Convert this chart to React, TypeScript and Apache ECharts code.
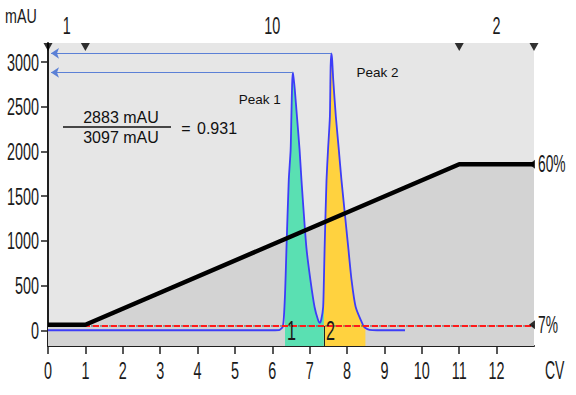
import { useEffect, useRef } from "react";
import * as echarts from "echarts";

// ---- data ----
const cvTicks = [0, 1, 2, 3, 4, 5, 6, 7, 8, 9, 10, 11, 12];
const mauTicks = [0, 500, 1000, 1500, 2000, 2500, 3000];

const traceCV = [0, 6.0, 6.2, 6.28, 6.31, 6.34, 6.36, 6.38, 6.44, 6.49, 6.51, 6.53, 6.55, 6.57, 6.6, 6.66, 6.73, 6.78, 6.91, 7.02, 7.13, 7.22, 7.27, 7.31, 7.36, 7.38, 7.4, 7.45, 7.49, 7.54, 7.56, 7.58, 7.6, 7.63, 7.7, 7.78, 7.85, 8.03, 8.12, 8.23, 8.43, 8.49, 8.6, 8.8, 9.55];
const traceMAU = [0, 0, 5, 40, 150, 400, 650, 932, 1680, 2015, 2388, 2750, 2883, 2820, 2700, 2388, 2015, 1680, 932, 560, 260, 120, 82, 120, 260, 560, 932, 1680, 2015, 2388, 2950, 3097, 3030, 2800, 2388, 2015, 1680, 932, 560, 260, 56, 25, 5, 0, 0];

const gradientCV = [0, 1, 11, 13];
const gradientPct = [7, 7, 60, 60];
const pctLabels = [7, 60];

const fractionEdges = [0, 1, 11, 13];
const fractionNames = ["1", "10", "2"];
const fractionCenters = [0.5, 6, 12];

const collectedNames = ["1", "2"];
const collectedStart = [6.34, 7.38];
const collectedEnd = [7.38, 8.49];
const collectedColors = ["#5ae0b2", "#ffd23f"];

const peakNames = ["Peak 1", "Peak 2"];
const peakCV = [6.55, 7.58];
const peakHeight = [2883, 3097];

const thresholdMAU = 48;

const Y_MIN = -176;
const Y_MAX = 3213;
const X_MAX = 13;

const SANS = "'Liberation Sans', Arial, sans-serif";
const INK = "#1b1b1b";
const SQUEEZE = 0.6;

function narrowText(text: string, x: number, y: number, align: string, size = 24, sx = SQUEEZE) {
  return {
    type: "text",
    x,
    y,
    scaleX: sx,
    silent: true,
    z: 100,
    style: { text, fontSize: size, fontFamily: SANS, fill: INK, align, verticalAlign: "middle" },
  };
}

export default function App() {
  const ref = useRef<HTMLDivElement>(null);
  useEffect(() => {
    document.body.style.margin = "0";
    if (!ref.current) return;
    const chart = echarts.init(ref.current, undefined, { renderer: "svg" });
    const trace = traceCV.map((x, i) => [x, traceMAU[i]]);
    const ratio = (peakHeight[0] / peakHeight[1]).toFixed(3);
    const thresholdLine = [
      [0, thresholdMAU],
      [X_MAX, thresholdMAU],
    ];

    const fillSeries = collectedNames.map((n, i) => ({
      type: "line",
      xAxisIndex: 0,
      yAxisIndex: 0,
      data: trace.filter((p) => p[0] >= collectedStart[i] && p[0] <= collectedEnd[i]),
      smooth: 0.2,
      symbol: "none",
      lineStyle: { width: 0 },
      areaStyle: { color: collectedColors[i], opacity: 1, origin: "start" },
      markLine:
        i === 1
          ? {
              silent: true,
              symbol: "none",
              label: { show: false },
              lineStyle: { color: "#222", width: 1, type: "solid" },
              data: [[{ coord: [collectedStart[i], Y_MIN] }, { coord: [collectedStart[i], thresholdMAU] }]],
            }
          : undefined,
    }));

    chart.setOption({
      animation: false,
      grid: {
        left: 48,
        right: 42,
        top: 43,
        bottom: 49,
        show: true,
        backgroundColor: "#e6e6e6",
        borderWidth: 0,
        containLabel: false,
        outerBoundsMode: "none",
      },
      xAxis: [
        {
          type: "value",
          min: 0,
          max: X_MAX,
          position: "bottom",
          axisLine: { onZero: false, lineStyle: { color: "#1f1f1f", width: 2 } },
          axisTick: { customValues: cvTicks, length: 8, lineStyle: { color: "#1f1f1f", width: 1.5 } },
          axisLabel: { show: false },
          splitLine: { show: false },
        },
        {
          type: "value",
          min: 0,
          max: X_MAX,
          position: "top",
          axisLine: { show: false },
          axisTick: { show: false },
          axisLabel: { show: false },
          splitLine: { show: false },
        },
      ],
      yAxis: [
        {
          type: "value",
          min: Y_MIN,
          max: Y_MAX,
          position: "left",
          axisLine: { show: true, lineStyle: { color: "#1f1f1f", width: 2 } },
          axisTick: { show: true, customValues: mauTicks, length: 7, lineStyle: { color: "#1f1f1f", width: 1.5 } },
          axisLabel: { show: false },
          splitLine: { show: false },
        },
        {
          type: "value",
          min: 0,
          max: 100,
          position: "right",
          axisLine: { show: false },
          axisTick: { show: false },
          axisLabel: { show: false },
          splitLine: { show: false },
        },
      ],
      series: [
        {
          type: "line",
          xAxisIndex: 0,
          yAxisIndex: 1,
          data: gradientCV.map((x, i) => [x, gradientPct[i]]),
          symbol: "none",
          lineStyle: { width: 0 },
          areaStyle: { color: "#d3d3d3", opacity: 1, origin: "start" },
        },
        ...fillSeries,
        {
          type: "line",
          xAxisIndex: 0,
          yAxisIndex: 0,
          data: trace,
          smooth: 0.2,
          symbol: "none",
          lineStyle: { color: "#3d3df8", width: 1.8 },
          markLine: {
            silent: true,
            symbol: ["arrow", "none"],
            symbolSize: 8,
            label: { show: false },
            lineStyle: { color: "#5b80d6", width: 1, type: "solid" },
            data: peakCV.map((cv, i) => [{ coord: [0.08, peakHeight[i]] }, { coord: [cv, peakHeight[i]] }]),
          },
        },
        {
          type: "line",
          xAxisIndex: 0,
          yAxisIndex: 0,
          data: thresholdLine,
          symbol: "none",
          lineStyle: { color: "#555", width: 1, type: [2, 7], dashOffset: -7 },
        },
        {
          type: "line",
          xAxisIndex: 0,
          yAxisIndex: 0,
          data: thresholdLine,
          symbol: "none",
          lineStyle: { color: "#ff1a1a", width: 2, type: [6, 3] },
        },
        {
          type: "line",
          xAxisIndex: 0,
          yAxisIndex: 1,
          data: gradientCV.map((x, i) => [x, gradientPct[i]]),
          symbol: "none",
          lineStyle: { color: "#000", width: 4.5 },
        },
        {
          type: "scatter",
          xAxisIndex: 0,
          yAxisIndex: 1,
          data: fractionEdges.map((x) => [x, 100]),
          symbol: "triangle",
          symbolRotate: 180,
          symbolSize: [9, 8],
          symbolOffset: [0, 4],
          itemStyle: { color: "#000" },
          clip: false,
          z: 10,
        },
        {
          type: "scatter",
          xAxisIndex: 0,
          yAxisIndex: 1,
          data: pctLabels.map((p) => [X_MAX, p]),
          symbol: "triangle",
          symbolRotate: 90,
          symbolSize: [9, 6],
          symbolOffset: [-2, 0],
          itemStyle: { color: "#000" },
          clip: false,
          z: 10,
        },
      ],
    });

    // tick labels and annotations, placed through the chart's own axes
    const px = (x: number) => chart.convertToPixel({ xAxisIndex: 0 }, x) as number;
    const pyL = (y: number) => chart.convertToPixel({ yAxisIndex: 0 }, y) as number;
    const pyR = (y: number) => chart.convertToPixel({ yAxisIndex: 1 }, y) as number;
    const left = px(0);
    const right = px(X_MAX);
    const bottom = pyL(Y_MIN);
    const top = pyL(Y_MAX);

    const graphic: any[] = [];
    cvTicks.forEach((v) => graphic.push(narrowText(String(v), px(v), bottom + 25, "center")));
    mauTicks.forEach((v) => graphic.push(narrowText(String(v), left - 9, pyL(v), "right")));
    fractionCenters.forEach((c, i) => graphic.push(narrowText(fractionNames[i], px(c), top - 17, "center")));
    pctLabels.forEach((p) => graphic.push(narrowText(`${p}%`, right + 4, pyR(p), "left", 23)));
    collectedNames.forEach((n, i) => graphic.push(narrowText(n, px(collectedStart[i]) + 2, bottom - 15, "left", 27)));
    graphic.push(narrowText("mAU", 5, 15.5, "left", 21, 0.68));
    graphic.push(narrowText("CV", right + 11, bottom + 24, "left", 25, 0.56));

    const txt = (text: string, x: number, y: number, align: string, size: number) => ({
      type: "text",
      x,
      y,
      silent: true,
      z: 100,
      style: { text, fontSize: size, fontFamily: SANS, fill: "#111", align, verticalAlign: "middle" },
    });
    graphic.push(txt(`${peakHeight[0]} mAU`, 121, 117, "center", 16));
    graphic.push({ type: "line", silent: true, z: 100, shape: { x1: 63, y1: 127, x2: 171, y2: 127 }, style: { stroke: "#111", lineWidth: 1.5 } });
    graphic.push(txt(`${peakHeight[1]} mAU`, 121, 137, "center", 16));
    graphic.push(txt("=", 186, 128, "center", 16));
    graphic.push(txt(ratio, 197, 128, "left", 16));
    graphic.push(txt(peakNames[0], px(peakCV[0]) - 33, pyL(peakHeight[0]) + 27, "center", 13.5));
    graphic.push(txt(peakNames[1], px(peakCV[1]) + 25, pyL(peakHeight[1]) + 19, "left", 13.5));

    chart.setOption({ graphic });
    return () => chart.dispose();
  }, []);
  return <div ref={ref} style={{ width: 576, height: 395 }} />;
}
